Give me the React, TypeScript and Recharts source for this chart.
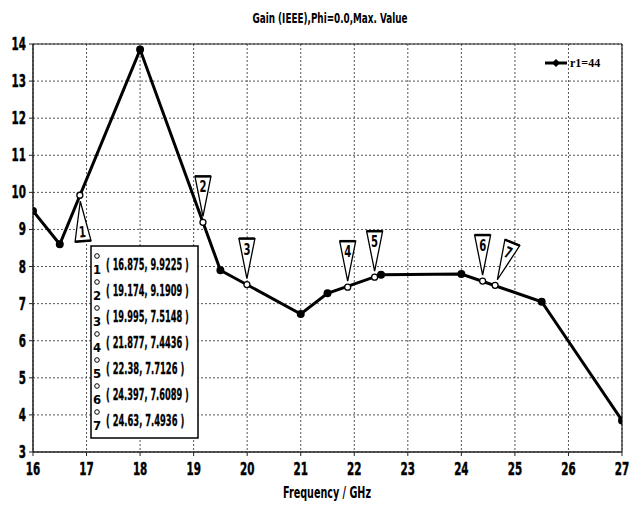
import React from "react";
import {
  ComposedChart,
  Line,
  Scatter,
  XAxis,
  YAxis,
  CartesianGrid,
  ReferenceLine,
  Customized,
} from "recharts";

// curve r1=44 (vertices)
const freq = [16, 16.5, 18, 19.5, 21, 21.5, 22.5, 24, 25.5, 27];
const gain = [9.5, 8.6, 13.85, 7.9, 6.72, 7.28, 7.78, 7.8, 7.05, 3.85];

// marker readouts
const markerIds = ["1", "2", "3", "4", "5", "6", "7"];
const markerFreq = [16.875, 19.174, 19.995, 21.877, 22.38, 24.397, 24.63];
const markerGain = [9.9225, 9.1909, 7.5148, 7.4436, 7.7126, 7.6089, 7.4936];

const xTicks = [16, 17, 18, 19, 20, 21, 22, 23, 24, 25, 26, 27];
const yTicks = [3, 4, 5, 6, 7, 8, 9, 10, 11, 12, 13, 14];

const lineData = freq.map((f, i) => ({ f, g: gain[i] }));
const markerData = markerFreq.map((f, i) => ({ f, g: markerGain[i], id: markerIds[i] }));

const FONT = "'DejaVu Sans Condensed', 'Liberation Sans Narrow', 'DejaVu Sans', sans-serif";

// squeezed bold tick labels (the original uses a narrow bold face)
function XTick(props: any) {
  const { x, y, payload } = props;
  return (
    <g transform={`translate(${x},${y + 17}) scale(0.72,1.05)`}>
      <text textAnchor="middle" fontFamily={FONT} fontWeight={700} fontSize={16} fill="#000" stroke="#000" strokeWidth={0.4}>
        {payload.value}
      </text>
    </g>
  );
}

function YTick(props: any) {
  const { x, y, payload } = props;
  return (
    <g transform={`translate(${x - 1},${y + 6}) scale(0.72,1.05)`}>
      <text textAnchor="end" fontFamily={FONT} fontWeight={700} fontSize={16} fill="#000" stroke="#000" strokeWidth={0.4}>
        {payload.value}
      </text>
    </g>
  );
}

function Flag(props: any) {
  const { cx, cy, payload } = props;
  if (cx == null || cy == null) return null;
  const id = payload?.id;
  // flag 1 hangs below the curve, flag 7 leans right
  let rot = 0;
  if (id === "1") rot = 176;
  if (id === "7") rot = 22;
  return (
    <g>
      <g transform={`translate(${cx},${cy}) rotate(${rot})`}>
        <polygon points="-8,-46 8,-46 0,-6" fill="#fff" stroke="#000" strokeWidth={1.3} />
        <line x1={-8} y1={-46} x2={8} y2={-46} stroke="#000" strokeWidth={2.5} />
        <g transform={id === "1" ? "rotate(180 0 -36)" : undefined}>
          <text
            x={0}
            y={-30}
            textAnchor="middle"
            fontFamily={FONT}
            fontWeight={700}
            fontSize={14}
            fill="#000"
            transform="translate(0,-30) scale(0.8,1.1) translate(0,30)"
          >
            {id}
          </text>
        </g>
      </g>
      <circle cx={cx} cy={cy} r={3} fill="#fff" stroke="#000" strokeWidth={1.3} />
    </g>
  );
}

function Overlay() {
  return (
    <g fontFamily={FONT} fontWeight={700}>
      <text x={330} y={23} textAnchor="middle" fontSize={14} fill="#000" textLength={155} lengthAdjust="spacingAndGlyphs">
        Gain (IEEE),Phi=0.0,Max. Value
      </text>
      <text x={327} y={498} textAnchor="middle" fontSize={15} fill="#000" textLength={88} lengthAdjust="spacingAndGlyphs">
        Frequency / GHz
      </text>
      {/* legend */}
      <line x1={545} y1={63} x2={567} y2={63} stroke="#000" strokeWidth={3} />
      <polygon points="556,59 560,63 556,67 552,63" fill="#000" />
      <text x={570} y={67} fontSize={12} fill="#000" fontFamily="'Liberation Serif', serif">
        r1=44
      </text>
      {/* marker table */}
      <rect x={91} y={246} width={107} height={192} fill="#fff" stroke="#000" strokeWidth={1.5} />
      {markerIds.map((id, i) => {
        const s = `( ${markerFreq[i]}, ${markerGain[i]} )`;
        return (
          <g key={id}>
            <circle cx={97} cy={256 + i * 26} r={2.3} fill="#fff" stroke="#000" strokeWidth={1} />
            <text x={97} y={274 + i * 26} textAnchor="middle" fontSize={13} fill="#000">
              {id}
            </text>
            <text x={106} y={270 + i * 26} fontSize={16} fill="#000" stroke="#000" strokeWidth={0.3} textLength={s.length * 4.6} lengthAdjust="spacingAndGlyphs">
              {s}
            </text>
          </g>
        );
      })}
    </g>
  );
}

export default function App() {
  return (
    <div style={{ width: 633, height: 508, background: "#fff" }}>
      <style>{`body{margin:0}`}</style>
      <ComposedChart
        width={633}
        height={508}
        data={lineData}
        margin={{ top: 44, right: 11, left: 6, bottom: 36 }}
      >
        <CartesianGrid stroke="#555" strokeDasharray="2 2" strokeWidth={1} />
        <XAxis
          dataKey="f"
          type="number"
          domain={[16, 27]}
          ticks={xTicks}
          interval={0}
          height={20}
          axisLine={{ stroke: "#222", strokeWidth: 1.5 }}
          tickLine={{ stroke: "#222" }}
          tickSize={4}
          tick={<XTick />}
          allowDataOverflow
        />
        <YAxis
          type="number"
          domain={[3, 14]}
          ticks={yTicks}
          interval={0}
          width={27}
          axisLine={{ stroke: "#222", strokeWidth: 1.5 }}
          tickLine={{ stroke: "#222" }}
          tickSize={4}
          tick={<YTick />}
          allowDataOverflow
        />
        <ReferenceLine y={14} stroke="#222" strokeWidth={1.2} />
        <ReferenceLine x={27} stroke="#222" strokeWidth={1.2} />
        <Line
          type="linear"
          dataKey="g"
          stroke="#000"
          strokeWidth={3}
          dot={{ r: 2.5, fill: "#000", stroke: "#000" }}
          isAnimationActive={false}
        />
        <Scatter data={markerData} dataKey="g" shape={<Flag />} isAnimationActive={false} />
        <Customized component={Overlay} />
      </ComposedChart>
    </div>
  );
}
